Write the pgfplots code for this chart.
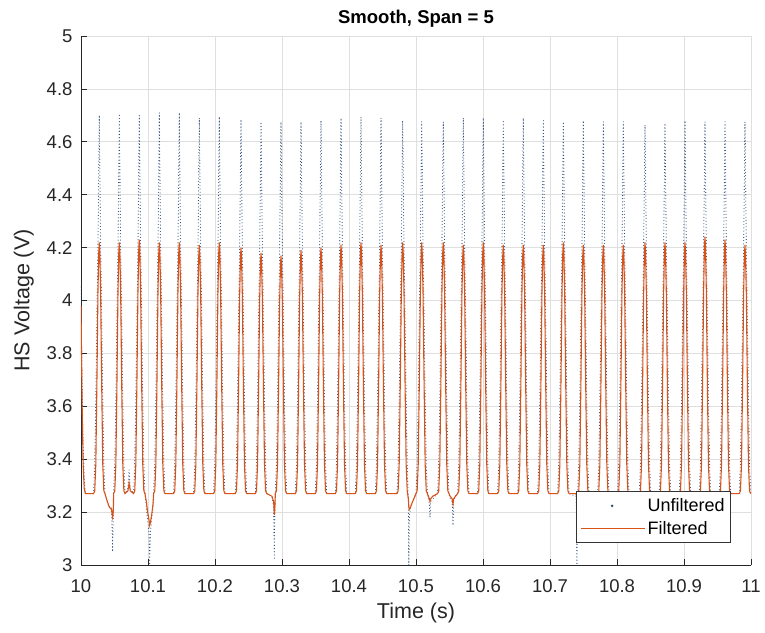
\documentclass[border=0pt]{standalone}
\usepackage{fontspec}
\setmainfont{Liberation Sans}
\usepackage{pgfplots}
\usepackage{pgfplotstable}
\pgfplotsset{compat=1.18}
\definecolor{mblue}{RGB}{35,70,120}
\definecolor{morange}{RGB}{217,83,25}
\pgfplotstableread[row sep=\\]{
t u f\\
10.0000 4.05 3.98\\ 10.0016 3.70 3.62\\ 10.0032 3.45 3.38\\ 10.0048 3.33 3.29\\ 10.0065 3.27 3.27\\
10.0188 3.27 3.27\\ 10.0205 3.38 3.28\\ 10.0221 3.62 3.38\\ 10.0237 3.93 3.68\\ 10.0253 4.20 4.03\\ 10.0265 4.50 4.18\\ 10.0273 4.70 4.22\\ 10.0281 4.50 4.18\\ 10.0293 4.20 4.03\\ 10.0309 3.93 3.68\\ 10.0325 3.62 3.38\\ 10.0341 3.38 3.28\\ 10.0358 3.27 3.27\\
10.0380 3.25 3.25\\ 10.0420 3.22 3.22\\ 10.0455 3.22 3.21\\ 10.0466 3.12 3.19\\ 10.0472 3.05 3.18\\ 10.0478 3.14 3.19\\ 10.0484 3.22 3.22\\
10.0487 3.27 3.27\\ 10.0504 3.38 3.28\\ 10.0520 3.62 3.38\\ 10.0536 3.93 3.68\\ 10.0552 4.20 4.03\\ 10.0564 4.50 4.18\\ 10.0572 4.70 4.22\\ 10.0580 4.50 4.18\\ 10.0592 4.20 4.03\\ 10.0608 3.93 3.68\\ 10.0624 3.62 3.38\\ 10.0640 3.38 3.28\\ 10.0657 3.27 3.27\\
10.0700 3.29 3.28\\ 10.0718 3.36 3.31\\ 10.0735 3.29 3.28\\
10.0785 3.27 3.27\\ 10.0802 3.38 3.28\\ 10.0818 3.62 3.38\\ 10.0834 3.93 3.68\\ 10.0850 4.20 4.03\\ 10.0862 4.50 4.19\\ 10.0870 4.70 4.23\\ 10.0878 4.50 4.19\\ 10.0890 4.20 4.03\\ 10.0906 3.93 3.68\\ 10.0922 3.62 3.38\\ 10.0938 3.38 3.28\\ 10.0955 3.27 3.27\\
10.0975 3.22 3.24\\ 10.0995 3.17 3.20\\ 10.1015 3.12 3.17\\ 10.1025 3.00 3.15\\ 10.1035 3.12 3.16\\ 10.1055 3.18 3.19\\ 10.1075 3.22 3.23\\
10.1084 3.27 3.27\\ 10.1101 3.38 3.28\\ 10.1117 3.62 3.38\\ 10.1133 3.93 3.68\\ 10.1149 4.20 4.03\\ 10.1161 4.50 4.18\\ 10.1169 4.71 4.22\\ 10.1177 4.50 4.18\\ 10.1189 4.20 4.03\\ 10.1205 3.93 3.68\\ 10.1221 3.62 3.38\\ 10.1237 3.38 3.28\\ 10.1254 3.27 3.27\\
10.1382 3.27 3.27\\ 10.1399 3.38 3.28\\ 10.1415 3.62 3.38\\ 10.1431 3.93 3.68\\ 10.1447 4.20 4.03\\ 10.1459 4.50 4.18\\ 10.1467 4.71 4.22\\ 10.1475 4.50 4.18\\ 10.1487 4.20 4.03\\ 10.1503 3.93 3.68\\ 10.1519 3.62 3.38\\ 10.1535 3.38 3.28\\ 10.1552 3.27 3.27\\
10.1681 3.27 3.27\\ 10.1698 3.38 3.28\\ 10.1714 3.62 3.38\\ 10.1730 3.93 3.68\\ 10.1746 4.20 4.03\\ 10.1758 4.50 4.17\\ 10.1766 4.69 4.21\\ 10.1774 4.50 4.17\\ 10.1786 4.20 4.03\\ 10.1802 3.93 3.68\\ 10.1818 3.62 3.38\\ 10.1834 3.38 3.28\\ 10.1851 3.27 3.27\\
10.1979 3.27 3.27\\ 10.1996 3.38 3.28\\ 10.2012 3.62 3.38\\ 10.2028 3.93 3.68\\ 10.2044 4.20 4.03\\ 10.2056 4.50 4.18\\ 10.2064 4.695 4.22\\ 10.2072 4.50 4.18\\ 10.2084 4.20 4.03\\ 10.2100 3.93 3.68\\ 10.2116 3.62 3.38\\ 10.2132 3.38 3.28\\ 10.2149 3.27 3.27\\
10.2303 3.27 3.27\\ 10.2320 3.38 3.28\\ 10.2336 3.62 3.38\\ 10.2352 3.93 3.68\\ 10.2368 4.20 4.02\\ 10.2380 4.50 4.16\\ 10.2388 4.685 4.20\\ 10.2396 4.50 4.16\\ 10.2408 4.20 4.02\\ 10.2424 3.93 3.68\\ 10.2440 3.62 3.38\\ 10.2456 3.38 3.28\\ 10.2473 3.27 3.27\\
10.2602 3.27 3.27\\ 10.2619 3.38 3.28\\ 10.2635 3.62 3.38\\ 10.2651 3.93 3.68\\ 10.2667 4.20 4.01\\ 10.2679 4.50 4.14\\ 10.2687 4.67 4.18\\ 10.2695 4.50 4.14\\ 10.2707 4.20 4.01\\ 10.2723 3.93 3.68\\ 10.2739 3.62 3.38\\ 10.2755 3.38 3.28\\ 10.2772 3.27 3.27\\
10.2850 3.26 3.26\\ 10.2875 3.22 3.24\\ 10.2886 3.02 3.19\\ 10.2893 3.20 3.21\\
10.2900 3.27 3.27\\ 10.2917 3.38 3.28\\ 10.2933 3.62 3.38\\ 10.2949 3.93 3.68\\ 10.2965 4.20 4.00\\ 10.2977 4.50 4.13\\ 10.2985 4.675 4.17\\ 10.2993 4.50 4.13\\ 10.3005 4.20 4.00\\ 10.3021 3.93 3.68\\ 10.3037 3.62 3.38\\ 10.3053 3.38 3.28\\ 10.3070 3.27 3.27\\
10.3199 3.27 3.27\\ 10.3216 3.38 3.28\\ 10.3232 3.62 3.38\\ 10.3248 3.93 3.68\\ 10.3264 4.20 4.02\\ 10.3276 4.50 4.15\\ 10.3284 4.675 4.19\\ 10.3292 4.50 4.15\\ 10.3304 4.20 4.02\\ 10.3320 3.93 3.68\\ 10.3336 3.62 3.38\\ 10.3352 3.38 3.28\\ 10.3369 3.27 3.27\\
10.3497 3.27 3.27\\ 10.3514 3.38 3.28\\ 10.3530 3.62 3.38\\ 10.3546 3.93 3.68\\ 10.3562 4.20 4.02\\ 10.3574 4.50 4.16\\ 10.3582 4.68 4.20\\ 10.3590 4.50 4.16\\ 10.3602 4.20 4.02\\ 10.3618 3.93 3.68\\ 10.3634 3.62 3.38\\ 10.3650 3.38 3.28\\ 10.3667 3.27 3.27\\
10.3796 3.27 3.27\\ 10.3813 3.38 3.28\\ 10.3829 3.62 3.38\\ 10.3845 3.93 3.68\\ 10.3861 4.20 4.03\\ 10.3873 4.50 4.17\\ 10.3881 4.69 4.21\\ 10.3889 4.50 4.17\\ 10.3901 4.20 4.03\\ 10.3917 3.93 3.68\\ 10.3933 3.62 3.38\\ 10.3949 3.38 3.28\\ 10.3966 3.27 3.27\\
10.4094 3.27 3.27\\ 10.4111 3.38 3.28\\ 10.4127 3.62 3.38\\ 10.4143 3.93 3.68\\ 10.4159 4.20 4.03\\ 10.4171 4.50 4.18\\ 10.4179 4.695 4.22\\ 10.4187 4.50 4.18\\ 10.4199 4.20 4.03\\ 10.4215 3.93 3.68\\ 10.4231 3.62 3.38\\ 10.4247 3.38 3.28\\ 10.4264 3.27 3.27\\
10.4393 3.27 3.27\\ 10.4410 3.38 3.28\\ 10.4426 3.62 3.38\\ 10.4442 3.93 3.68\\ 10.4458 4.20 4.03\\ 10.4470 4.50 4.17\\ 10.4478 4.69 4.21\\ 10.4486 4.50 4.17\\ 10.4498 4.20 4.03\\ 10.4514 3.93 3.68\\ 10.4530 3.62 3.38\\ 10.4546 3.38 3.28\\ 10.4563 3.27 3.27\\
10.4716 3.27 3.27\\ 10.4733 3.38 3.28\\ 10.4749 3.62 3.38\\ 10.4765 3.93 3.68\\ 10.4781 4.20 4.03\\ 10.4793 4.50 4.18\\ 10.4801 4.68 4.22\\ 10.4809 4.50 4.18\\ 10.4821 4.20 4.03\\ 10.4837 3.93 3.68\\ 10.4853 3.62 3.38\\ 10.4869 3.38 3.28\\ 10.4886 3.24 3.25\\
10.4893 3.00 3.22\\ 10.4900 3.18 3.21\\ 10.4920 3.22 3.22\\ 10.4950 3.24 3.24\\
10.5000 3.27 3.27\\ 10.5017 3.38 3.28\\ 10.5033 3.62 3.38\\ 10.5049 3.93 3.68\\ 10.5065 4.20 4.03\\ 10.5077 4.50 4.18\\ 10.5085 4.676 4.22\\ 10.5093 4.50 4.18\\ 10.5105 4.20 4.03\\ 10.5121 3.93 3.68\\ 10.5137 3.62 3.38\\ 10.5153 3.38 3.28\\ 10.5170 3.27 3.27\\
10.5185 3.25 3.26\\ 10.5200 3.23 3.25\\ 10.5209 3.18 3.24\\ 10.5218 3.23 3.25\\ 10.5250 3.25 3.26\\
10.5322 3.27 3.27\\ 10.5339 3.38 3.28\\ 10.5355 3.62 3.38\\ 10.5371 3.93 3.68\\ 10.5387 4.20 4.03\\ 10.5399 4.50 4.18\\ 10.5407 4.676 4.22\\ 10.5415 4.50 4.18\\ 10.5427 4.20 4.03\\ 10.5443 3.93 3.68\\ 10.5459 3.62 3.38\\ 10.5475 3.38 3.28\\ 10.5492 3.27 3.27\\
10.5510 3.25 3.26\\ 10.5540 3.24 3.25\\ 10.5552 3.15 3.23\\ 10.5562 3.24 3.25\\ 10.5590 3.26 3.26\\
10.5621 3.27 3.27\\ 10.5638 3.38 3.28\\ 10.5654 3.62 3.38\\ 10.5670 3.93 3.68\\ 10.5686 4.20 4.03\\ 10.5698 4.50 4.17\\ 10.5706 4.69 4.21\\ 10.5714 4.50 4.17\\ 10.5726 4.20 4.03\\ 10.5742 3.93 3.68\\ 10.5758 3.62 3.38\\ 10.5774 3.38 3.28\\ 10.5791 3.27 3.27\\
10.5919 3.27 3.27\\ 10.5936 3.38 3.28\\ 10.5952 3.62 3.38\\ 10.5968 3.93 3.68\\ 10.5984 4.20 4.03\\ 10.5996 4.50 4.18\\ 10.6004 4.69 4.22\\ 10.6012 4.50 4.18\\ 10.6024 4.20 4.03\\ 10.6040 3.93 3.68\\ 10.6056 3.62 3.38\\ 10.6072 3.38 3.28\\ 10.6089 3.27 3.27\\
10.6218 3.27 3.27\\ 10.6235 3.38 3.28\\ 10.6251 3.62 3.38\\ 10.6267 3.93 3.68\\ 10.6283 4.20 4.03\\ 10.6295 4.50 4.17\\ 10.6303 4.676 4.21\\ 10.6311 4.50 4.17\\ 10.6323 4.20 4.03\\ 10.6339 3.93 3.68\\ 10.6355 3.62 3.38\\ 10.6371 3.38 3.28\\ 10.6388 3.27 3.27\\
10.6516 3.27 3.27\\ 10.6533 3.38 3.28\\ 10.6549 3.62 3.38\\ 10.6565 3.93 3.68\\ 10.6581 4.20 4.03\\ 10.6593 4.50 4.17\\ 10.6601 4.69 4.21\\ 10.6609 4.50 4.17\\ 10.6621 4.20 4.03\\ 10.6637 3.93 3.68\\ 10.6653 3.62 3.38\\ 10.6669 3.38 3.28\\ 10.6686 3.27 3.27\\
10.6815 3.27 3.27\\ 10.6832 3.38 3.28\\ 10.6848 3.62 3.38\\ 10.6864 3.93 3.68\\ 10.6880 4.20 4.03\\ 10.6892 4.50 4.17\\ 10.6900 4.68 4.21\\ 10.6908 4.50 4.17\\ 10.6920 4.20 4.03\\ 10.6936 3.93 3.68\\ 10.6952 3.62 3.38\\ 10.6968 3.38 3.28\\ 10.6985 3.27 3.27\\
10.7114 3.27 3.27\\ 10.7131 3.38 3.28\\ 10.7147 3.62 3.38\\ 10.7163 3.93 3.68\\ 10.7179 4.20 4.03\\ 10.7191 4.50 4.18\\ 10.7199 4.676 4.22\\ 10.7207 4.50 4.18\\ 10.7219 4.20 4.03\\ 10.7235 3.93 3.68\\ 10.7251 3.62 3.38\\ 10.7267 3.38 3.28\\ 10.7284 3.27 3.27\\
10.7390 3.26 3.27\\ 10.7402 3.00 3.24\\ 10.7410 3.22 3.25\\
10.7412 3.27 3.27\\ 10.7429 3.38 3.28\\ 10.7445 3.62 3.38\\ 10.7461 3.93 3.68\\ 10.7477 4.20 4.03\\ 10.7489 4.50 4.17\\ 10.7497 4.68 4.21\\ 10.7505 4.50 4.17\\ 10.7517 4.20 4.03\\ 10.7533 3.93 3.68\\ 10.7549 3.62 3.38\\ 10.7565 3.38 3.28\\ 10.7582 3.27 3.27\\
10.7711 3.27 3.27\\ 10.7728 3.38 3.28\\ 10.7744 3.62 3.38\\ 10.7760 3.93 3.68\\ 10.7776 4.20 4.03\\ 10.7788 4.50 4.17\\ 10.7796 4.676 4.21\\ 10.7804 4.50 4.17\\ 10.7816 4.20 4.03\\ 10.7832 3.93 3.68\\ 10.7848 3.62 3.38\\ 10.7864 3.38 3.28\\ 10.7881 3.27 3.27\\
10.8009 3.27 3.27\\ 10.8026 3.38 3.28\\ 10.8042 3.62 3.38\\ 10.8058 3.93 3.68\\ 10.8074 4.20 4.03\\ 10.8086 4.50 4.17\\ 10.8094 4.676 4.21\\ 10.8102 4.50 4.17\\ 10.8114 4.20 4.03\\ 10.8130 3.93 3.68\\ 10.8146 3.62 3.38\\ 10.8162 3.38 3.28\\ 10.8179 3.27 3.27\\
10.8333 3.27 3.27\\ 10.8350 3.38 3.28\\ 10.8366 3.62 3.38\\ 10.8382 3.93 3.68\\ 10.8398 4.20 4.03\\ 10.8410 4.50 4.18\\ 10.8418 4.664 4.22\\ 10.8426 4.50 4.18\\ 10.8438 4.20 4.03\\ 10.8454 3.93 3.68\\ 10.8470 3.62 3.38\\ 10.8486 3.38 3.28\\ 10.8503 3.27 3.27\\
10.8631 3.27 3.27\\ 10.8648 3.38 3.28\\ 10.8664 3.62 3.38\\ 10.8680 3.93 3.68\\ 10.8696 4.20 4.03\\ 10.8708 4.50 4.18\\ 10.8716 4.67 4.22\\ 10.8724 4.50 4.18\\ 10.8736 4.20 4.03\\ 10.8752 3.93 3.68\\ 10.8768 3.62 3.38\\ 10.8784 3.38 3.28\\ 10.8801 3.27 3.27\\
10.8930 3.27 3.27\\ 10.8947 3.38 3.28\\ 10.8963 3.62 3.38\\ 10.8979 3.93 3.68\\ 10.8995 4.20 4.03\\ 10.9007 4.50 4.18\\ 10.9015 4.68 4.22\\ 10.9023 4.50 4.18\\ 10.9035 4.20 4.03\\ 10.9051 3.93 3.68\\ 10.9067 3.62 3.38\\ 10.9083 3.38 3.28\\ 10.9100 3.27 3.27\\
10.9228 3.27 3.27\\ 10.9245 3.38 3.28\\ 10.9261 3.62 3.38\\ 10.9277 3.93 3.68\\ 10.9293 4.20 4.04\\ 10.9305 4.50 4.20\\ 10.9313 4.676 4.24\\ 10.9321 4.50 4.20\\ 10.9333 4.20 4.04\\ 10.9349 3.93 3.68\\ 10.9365 3.62 3.38\\ 10.9381 3.38 3.28\\ 10.9398 3.27 3.27\\
10.9527 3.27 3.27\\ 10.9544 3.38 3.28\\ 10.9560 3.62 3.38\\ 10.9576 3.93 3.68\\ 10.9592 4.20 4.03\\ 10.9604 4.50 4.19\\ 10.9612 4.676 4.23\\ 10.9620 4.50 4.19\\ 10.9632 4.20 4.03\\ 10.9648 3.93 3.68\\ 10.9664 3.62 3.38\\ 10.9680 3.38 3.28\\ 10.9697 3.27 3.27\\
10.9825 3.27 3.27\\ 10.9842 3.38 3.28\\ 10.9858 3.62 3.38\\ 10.9874 3.93 3.68\\ 10.9890 4.20 4.03\\ 10.9902 4.50 4.17\\ 10.9910 4.676 4.21\\ 10.9918 4.50 4.17\\ 10.9930 4.20 4.03\\ 10.9946 3.93 3.68\\ 10.9962 3.62 3.38\\ 10.9978 3.38 3.28\\ 10.9995 3.27 3.27\\
}\sig
\begin{document}
\begin{tikzpicture}
\begin{axis}[
  scale only axis, width=670pt, height=529pt,
  xmin=10, xmax=11, ymin=3, ymax=5,
  xtick={10,10.1,10.2,10.3,10.4,10.5,10.6,10.7,10.8,10.9,11},
  ytick={3,3.2,3.4,3.6,3.8,4,4.2,4.4,4.6,4.8,5},
  /pgf/number format/assume math mode=true,
  /pgf/number format/fixed,
  xticklabel style={font=\fontsize{18.5}{20}\selectfont, color=black!85, yshift=-11pt},
  yticklabel style={font=\fontsize{18.5}{20}\selectfont, color=black!85, xshift=-5pt},
  axis x line*=bottom, axis y line*=left,
  axis line style={-, black!85, line width=0.7pt},
  tick align=inside, major tick length=6pt,
  tick style={black!85, line width=0.7pt},
  grid=major, major grid style={gray!25, line width=0.6pt},
  title={\textbf{Smooth, Span = 5}},
  title style={font=\fontsize{18.5}{20}\selectfont, yshift=-1pt},
  xlabel={Time (s)}, ylabel={HS Voltage (V)},
  label style={font=\fontsize{21.5}{23}\selectfont, color=black!85},
  xlabel style={yshift=-3pt},
  ylabel style={yshift=6pt},
  legend style={at={(1,0)}, anchor=south east, xshift=-20pt, yshift=22pt,
    font=\fontsize{18}{20}\selectfont, draw=black!80, line width=0.6pt,
    fill=white, inner xsep=4pt, inner ysep=5pt, row sep=4pt},
  legend cell align=left,
]
\addplot[mblue, line width=1.1pt, line cap=round, dash pattern=on 0pt off 3.2pt,
  legend image code/.code={\path[draw=none] (0pt,0pt) -- (64pt,0pt); \fill[fill=mblue, draw=none] (31pt,0pt) circle (1.4pt);}]
  table[x=t, y=u] {\sig};
\addlegendentry{Unfiltered}
\addplot[morange, line width=1.1pt,
  legend image code/.code={\draw[draw=morange, line width=1.1pt, solid] (0pt,0pt) -- (64pt,0pt);}]
  table[x=t, y=f] {\sig};
\addlegendentry{Filtered}
\end{axis}
\pgfresetboundingbox
\path[use as bounding box] (-81pt,-67pt) rectangle (684pt,565pt);
\end{tikzpicture}
\end{document}
